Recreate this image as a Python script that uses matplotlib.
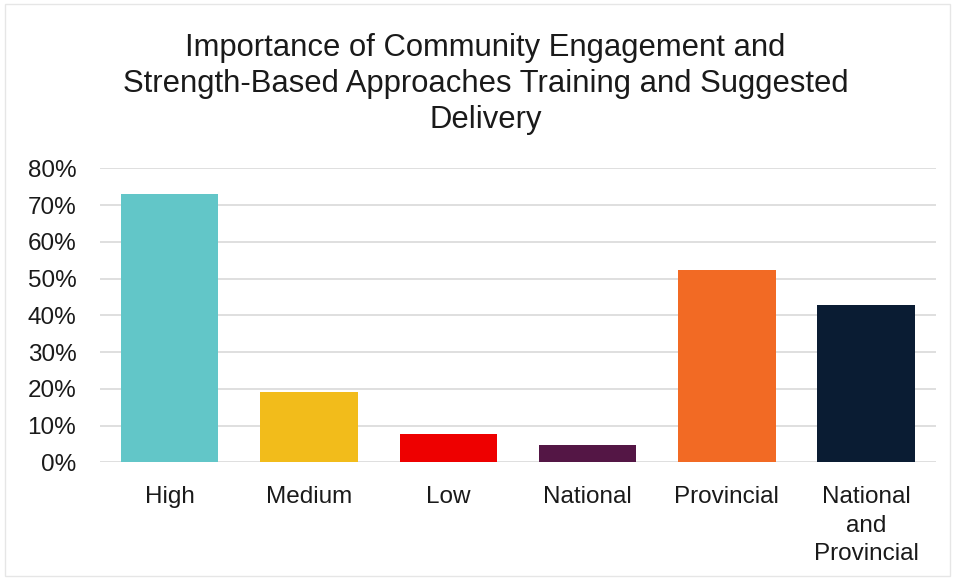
import matplotlib.pyplot as plt
from matplotlib.patches import Rectangle
from matplotlib.ticker import PercentFormatter

# Importance rating shares, then suggested delivery level shares
categories = ['High', 'Medium', 'Low', 'National', 'Provincial', 'National\nand\nProvincial']
shares = [0.731, 0.192, 0.077, 0.048, 0.524, 0.429]
colors = ['#62C6C8', '#F2BC1B', '#EE0000', '#541645', '#F26A24', '#0A1C33']
title = ('Importance of Community Engagement and\n'
         'Strength-Based Approaches Training and Suggested\n'
         'Delivery')

plt.rcParams['font.family'] = ['Liberation Sans', 'DejaVu Sans']

fig = plt.figure(figsize=(9.54, 5.78), dpi=100)
ax = fig.add_axes([0.1048, 0.2002, 0.8762, 0.5086])

# light frame round the whole chart area
fig.patches.append(Rectangle((0.005, 0.003), 0.991, 0.99, transform=fig.transFigure,
                             fill=False, edgecolor='#e6e6e6', linewidth=1))

x = range(len(categories))
ax.bar(x, shares, width=0.7, color=colors, zorder=3)

ax.set_xlim(-0.5, len(categories) - 0.5)
ax.set_ylim(0, 0.8)
ax.set_yticks([i / 10 for i in range(9)])
ax.yaxis.set_major_formatter(PercentFormatter(1.0, decimals=0))
ax.set_xticks(list(x))
ax.set_xticklabels(categories, linespacing=1.4)

ax.grid(axis='y', color='#d9d9d9', linewidth=1.2, zorder=0)
for side in ['top', 'right', 'left', 'bottom']:
    ax.spines[side].set_visible(False)
ax.tick_params(axis='both', length=0, labelsize=17.5, colors='#1a1a1a')
ax.tick_params(axis='x', pad=17)
ax.tick_params(axis='y', pad=17)

fig.text(0.509, 0.855, title, ha='center', va='center', fontsize=22.3,
         color='#1a1a1a', linespacing=1.25)

fig.savefig('out.png', dpi=100)
